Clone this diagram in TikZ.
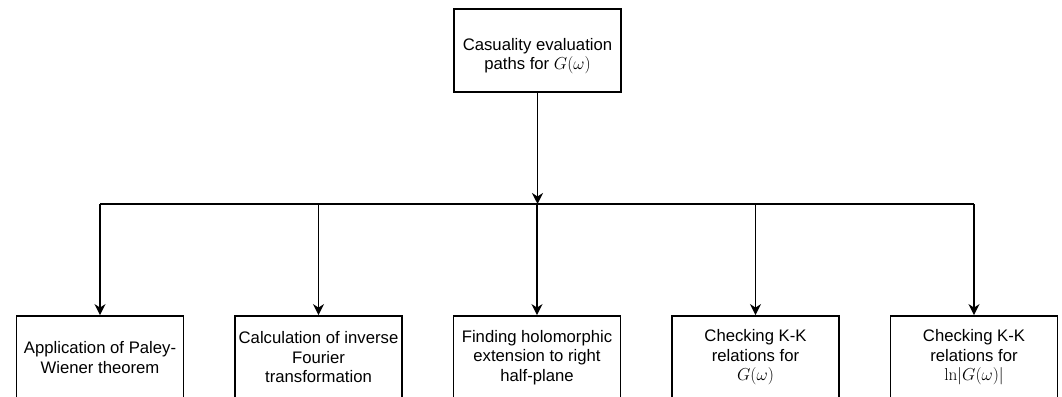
\documentclass[tikz,border=0pt]{standalone}
\usepackage[no-math]{fontspec}
\setmainfont{Liberation Sans}
\usetikzlibrary{arrows.meta}
\tikzset{
  txt/.style={inner sep=0pt, align=center, font=\fontsize{16.7pt}{19.5pt}\selectfont},
  box/.style={txt, draw=black, line width=1.8pt, fill=white, minimum width=167pt, minimum height=83pt},
  conn/.style={line width=1.8pt, draw=black},
  arr/.style={conn, -{Stealth[length=11pt,width=11pt,inset=3.5pt]}}
}
\begin{document}
\begin{tikzpicture}[x=1pt,y=-1pt]
\useasboundingbox[fill=white] (0,0) rectangle (1062,396);
\clip (0,0) rectangle (1062,396);
\node[box] (top) at (537.5,50.5) {};
\node[txt] (toptext) at (537.5,56) {Casuality evaluation\\paths for $G(\omega)$};
\node[box] (b1) at (100,357.5) {Application of Paley-\\Wiener theorem};
\node[box] (b2) at (318.5,357.5) {Calculation of inverse\\Fourier\\transformation};
\node[box] (b3) at (537,357.5) {Finding holomorphic\\extension to right\\half-plane};
\node[box] (b4) at (755.5,357.5) {Checking K-K\\relations for\\$G(\omega)$};
\node[box] (b5) at (974,357.5) {Checking K-K\\relations for\\$\mathrm{ln}|G(\omega)|$};
\coordinate (j) at (537.5,204);
\coordinate (j1) at (100,204);
\coordinate (j2) at (318.5,204);
\coordinate (j3) at (537,204);
\coordinate (j4) at (755.5,204);
\coordinate (j5) at (974,204);
\draw[arr] (top.south) -- (j);
\draw[conn] (j1) -- (j5);
\draw[arr] (j1) -- (b1.north);
\draw[arr] (j2) -- (b2.north);
\draw[arr] (j3) -- (b3.north);
\draw[arr] (j4) -- (b4.north);
\draw[arr] (j5) -- (b5.north);
\end{tikzpicture}
\end{document}
